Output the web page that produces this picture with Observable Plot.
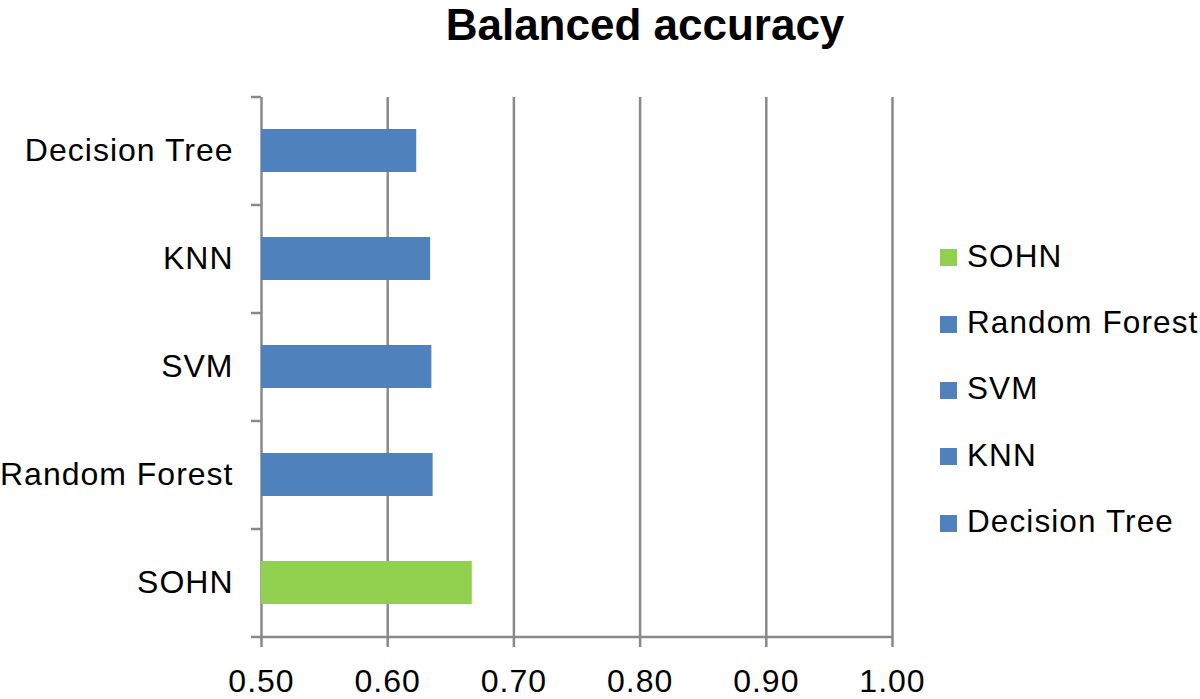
<!DOCTYPE html>
<html><head><meta charset="utf-8">
<script src="https://cdn.jsdelivr.net/npm/d3@7"></script>
<script src="https://cdn.jsdelivr.net/npm/@observablehq/plot@0.6"></script>
<style>
body{margin:0;background:#fff;}
#wrap{position:relative;width:1200px;height:699px;font-family:"Liberation Sans",Arial,Helvetica,sans-serif;overflow:hidden;}
#chart{position:absolute;left:0;top:0;}
#title{position:absolute;left:445px;top:3px;width:400px;text-align:center;font-size:44px;font-weight:bold;line-height:44px;color:#000;white-space:nowrap;}
#legend{position:absolute;left:940px;top:0;}
.lrow{position:absolute;left:0;height:66.3px;white-space:nowrap;}
.lsw{position:absolute;left:0;top:26.5px;width:17px;height:17px;}
.ltx{position:absolute;left:27px;top:0;font-size:31.5px;line-height:66.3px;letter-spacing:1.1px;color:#000;}
</style>
</head><body>
<div id="wrap">
  <div id="chart"></div>
  <div id="title">Balanced accuracy</div>
  <div id="legend"></div>
</div>
<script>
const categories = ["Decision Tree", "KNN", "SVM", "Random Forest", "SOHN"];
const values = [0.623, 0.634, 0.635, 0.636, 0.667];
const barColors = ["#4F81BD", "#4F81BD", "#4F81BD", "#4F81BD", "#92D050"];
const xTicks = [0.5, 0.6, 0.7, 0.8, 0.9, 1.0];
const xDomain = [0.5, 1.0];
const legendOrder = ["SOHN", "Random Forest", "SVM", "KNN", "Decision Tree"];

const data = categories.map((c, i) => ({category: c, value: values[i]}));
const W = 1200, H = 699;
const mt = 97, mb = H - 637, ml = 261, mr = W - 892;
const step = (H - mt - mb) / categories.length;
const gray = "#898989";
const sw = 2.5;

const chart = Plot.plot({
  width: W, height: H,
  marginTop: mt, marginBottom: mb, marginLeft: ml, marginRight: mr,
  style: {fontFamily: '"Liberation Sans", Arial, Helvetica, sans-serif', fontSize: "32px", background: "white", overflow: "visible", letterSpacing: "1px"},
  x: {domain: xDomain},
  y: {domain: categories, paddingInner: 0.6, paddingOuter: 0.3},
  color: {domain: categories, range: barColors},
  marks: [
    Plot.ruleX(xTicks, {x: d => d, stroke: gray, strokeWidth: sw, insetBottom: -10}),
    Plot.barX(data, {y: "category", x1: () => xDomain[0], x2: "value", fill: "category"}),
    Plot.ruleY(categories, {y: d => d, x1: () => xDomain[0], x2: () => xDomain[0], insetLeft: -10, dy: -step / 2, stroke: gray, strokeWidth: sw}),
    Plot.ruleY([categories[categories.length - 1]], {y: d => d, x1: () => xDomain[0], x2: () => xDomain[1], insetLeft: -10, dy: step / 2, stroke: gray, strokeWidth: sw}),
    Plot.axisY({tickSize: 0, tickPadding: 28, fontSize: 32, label: null}),
    Plot.axisX(xTicks, {tickSize: 0, tickPadding: 32, tickFormat: d3.format(".2f"), fontSize: 32, label: null})
  ]
});
document.getElementById("chart").appendChild(chart);

const legend = document.getElementById("legend");
legendOrder.forEach((name, i) => {
  const row = document.createElement("div");
  row.className = "lrow";
  row.style.top = (222.8 + i * 66.3) + "px";
  const sq = document.createElement("div");
  sq.className = "lsw";
  sq.style.background = barColors[categories.indexOf(name)];
  const tx = document.createElement("div");
  tx.className = "ltx";
  tx.textContent = name;
  row.appendChild(sq); row.appendChild(tx);
  legend.appendChild(row);
});
</script>
</body></html>
